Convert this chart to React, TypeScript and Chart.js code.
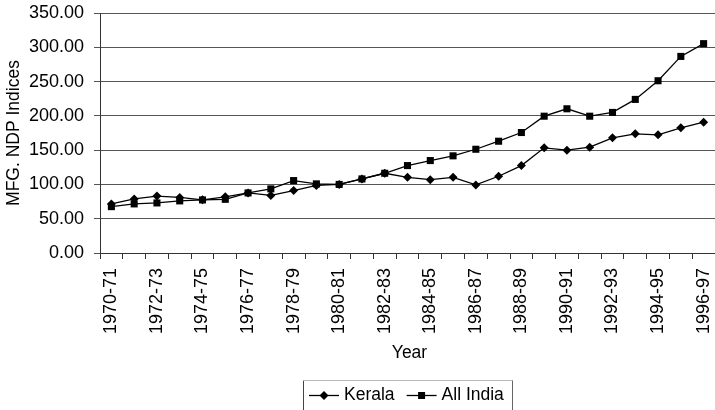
import React, { useEffect, useRef } from "react";
import { Chart, registerables } from "chart.js";

Chart.register(...registerables);

const years: string[] = [
  "1970-71", "1971-72", "1972-73", "1973-74", "1974-75", "1975-76", "1976-77",
  "1977-78", "1978-79", "1979-80", "1980-81", "1981-82", "1982-83", "1983-84",
  "1984-85", "1985-86", "1986-87", "1987-88", "1988-89", "1989-90", "1990-91",
  "1991-92", "1992-93", "1993-94", "1994-95", "1995-96", "1996-97",
];

const kerala: number[] = [
  71.6, 78.9, 83.0, 81.0, 77.5, 82.0, 87.6, 84.0, 91.0, 98.5, 100.0, 108.0,
  116.3, 110.4, 107.0, 110.4, 99.3, 111.9, 127.5, 153.4, 149.9, 154.3, 168.0,
  173.8, 172.4, 182.6, 190.8,
];

const allIndia: number[] = [
  67.6, 71.6, 73.0, 76.0, 77.4, 78.3, 87.6, 93.5, 105.6, 100.8, 100.0, 108.0,
  116.3, 127.5, 134.8, 141.7, 151.3, 163.0, 175.7, 199.5, 210.3, 199.5, 205.0,
  224.0, 251.2, 286.7, 305.3,
];

const seriesNames: string[] = ["Kerala", "All India"];
const yAxisTitle = "MFG. NDP Indices";
const xAxisTitle = "Year";

const FONT = '"Liberation Sans", Arial, sans-serif';

const drawMarker = (ctx: CanvasRenderingContext2D, style: string, x: number, y: number) => {
  ctx.beginPath();
  if (style === "rectRot") {
    const r = 4.5;
    ctx.moveTo(x, y - r);
    ctx.lineTo(x + r, y);
    ctx.lineTo(x, y + r);
    ctx.lineTo(x - r, y);
    ctx.closePath();
  } else {
    const s = 3.5;
    ctx.rect(x - s, y - s, 2 * s, 2 * s);
  }
  ctx.fill();
};

const extrasPlugin = {
  id: "extras",
  afterDraw(chart: any) {
    const ctx: CanvasRenderingContext2D = chart.ctx;
    const area = chart.chartArea;
    ctx.save();
    ctx.fillStyle = "#000";
    ctx.font = `17.5px ${FONT}`;
    ctx.textAlign = "center";
    ctx.textBaseline = "middle";
    ctx.fillText(xAxisTitle, (area.left + area.right) / 2 + 2, 353);

    // legend box
    const boxL = 303.5;
    const boxT = 380.5;
    const boxR = 512.5;
    ctx.strokeStyle = "#444";
    ctx.lineWidth = 1;
    ctx.beginPath();
    ctx.moveTo(boxL, 412);
    ctx.lineTo(boxL, boxT);
    ctx.stroke();
    ctx.strokeStyle = "#bbb";
    ctx.beginPath();
    ctx.moveTo(boxL, boxT);
    ctx.lineTo(boxR, boxT);
    ctx.stroke();
    ctx.strokeStyle = "#666";
    ctx.beginPath();
    ctx.moveTo(boxR, boxT);
    ctx.lineTo(boxR, 412);
    ctx.stroke();

    const ly = 395.5;
    let x = 309;
    ctx.textAlign = "left";
    chart.data.datasets.forEach((ds: any) => {
      ctx.strokeStyle = "#000";
      ctx.lineWidth = 1.3;
      ctx.beginPath();
      ctx.moveTo(x, ly);
      ctx.lineTo(x + 30, ly);
      ctx.stroke();
      ctx.fillStyle = "#000";
      drawMarker(ctx, ds.pointStyle, x + 15, ly);
      const tx = x + 35;
      ctx.fillText(ds.label, tx, ly);
      x = tx + ctx.measureText(ds.label).width + 12;
    });
    ctx.restore();
  },
};

export default function App() {
  const ref = useRef<HTMLCanvasElement | null>(null);

  useEffect(() => {
    if (!ref.current) return;
    const chart = new Chart(ref.current, {
      type: "line",
      data: {
        labels: years,
        datasets: [
          {
            label: seriesNames[0],
            data: kerala,
            borderColor: "#000",
            backgroundColor: "#000",
            borderWidth: 1.3,
            pointStyle: "rectRot",
            pointRadius: 4.5,
            pointBorderWidth: 0,
            tension: 0,
          },
          {
            label: seriesNames[1],
            data: allIndia,
            borderColor: "#000",
            backgroundColor: "#000",
            borderWidth: 1.3,
            pointStyle: "rect",
            pointRadius: 5,
            pointBorderWidth: 0,
            tension: 0,
          },
        ],
      },
      options: {
        responsive: false,
        animation: false,
        devicePixelRatio: 1,
        layout: { autoPadding: false, padding: { top: 13, left: 0, right: 0, bottom: 0 } },
        plugins: {
          legend: { display: false },
          tooltip: { enabled: false },
        },
        scales: {
          x: {
            offset: true,
            grid: {
              offset: true,
              drawOnChartArea: false,
              drawTicks: true,
              tickLength: 6,
              color: "#333",
            },
            border: { display: true, color: "#333", width: 1 },
            ticks: {
              autoSkip: false,
              minRotation: 90,
              maxRotation: 90,
              padding: 9,
              color: "#000",
              font: { family: FONT, size: 18 },
              callback: (_v: any, i: number) => (i % 2 === 0 ? years[i] : ""),
            },
            afterFit: (s: any) => {
              s.height = 157;
              s.paddingLeft = 0;
              s.paddingRight = 0;
            },
          },
          y: {
            min: 0,
            max: 350,
            grid: { color: "#555", tickLength: 6, lineWidth: 1 },
            border: { display: true, color: "#333", width: 1 },
            ticks: {
              stepSize: 50,
              padding: 10,
              color: "#000",
              font: { family: FONT, size: 18 },
              callback: (v: any) => Number(v).toFixed(2),
            },
            title: {
              display: true,
              text: yAxisTitle,
              color: "#000",
              font: { family: FONT, size: 17.5 },
              padding: { top: 4, bottom: 4 },
            },
            afterFit: (s: any) => {
              s.width = 100;
              s.paddingTop = 0;
              s.paddingBottom = 0;
            },
          },
        },
      },
      plugins: [extrasPlugin],
    });
    return () => chart.destroy();
  }, []);

  return (
    <div style={{ position: "absolute", left: 0, top: 0, width: 715, height: 410, background: "#fff" }}>
      <canvas ref={ref} width={715} height={410} style={{ width: 715, height: 410, display: "block" }} />
    </div>
  );
}
